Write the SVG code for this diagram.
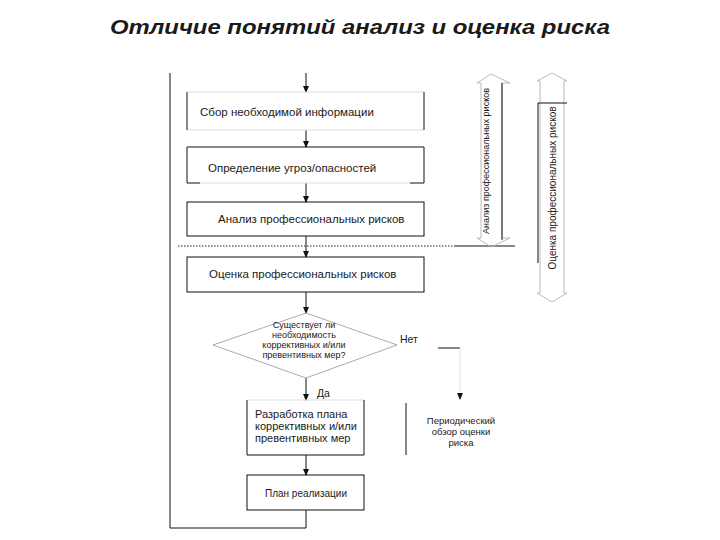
<svg xmlns="http://www.w3.org/2000/svg" width="720" height="540" viewBox="0 0 720 540">
<style>
.t{font-family:"Liberation Sans","DejaVu Sans",sans-serif;fill:#1a1a1a}
.ln{fill:none;stroke:#111;stroke-width:1}
.faint{fill:none;stroke:#ddd;stroke-width:1}
.blk{fill:none;stroke:#bbb;stroke-width:1}
</style>
<defs>
<marker id="ah" markerWidth="7" markerHeight="7" refX="6" refY="3.5" orient="auto" markerUnits="userSpaceOnUse">
<path d="M0,0.5 L7,3.5 L0,6.5 Z" fill="#111"/>
</marker>
</defs>
<rect width="720" height="540" fill="#fff"/>
<text class="t" x="110" y="34" font-size="21" font-weight="bold" font-style="italic" textLength="500" lengthAdjust="spacingAndGlyphs">Отличие понятий анализ и оценка риска</text>

<g id="connectors">
<path class="ln" d="M306,73 V92" marker-end="url(#ah)"/>
<path class="ln" d="M306,130 V147" marker-end="url(#ah)"/>
<path class="ln" d="M306,183 V202" marker-end="url(#ah)"/>
<path class="ln" d="M306,236 V257" marker-end="url(#ah)"/>
<path class="ln" d="M306,292 V313" marker-end="url(#ah)"/>
<path class="ln" d="M306,378 V400" marker-end="url(#ah)"/>
<path class="ln" d="M306,455 V475" marker-end="url(#ah)"/>
<path class="ln" d="M306,510 V528 H170 V73"/>
<path class="ln" d="M438,348 H460"/>
<path class="faint" d="M460,348 V392"/>
<path d="M457,393 L463,393 L460,400 Z" fill="#111"/>
<path fill="none" stroke="#222" stroke-width="1" stroke-dasharray="1.5,1.5" d="M178,246 H455"/>
<path class="ln" d="M455,246 H515"/>
</g>

<g id="n1">
<path class="faint" d="M187,92 H424 M187,130 H424"/>
<path class="ln" d="M187,92 V130 M424,92 V130"/>
<text class="t" x="200" y="116" font-size="11.5">Сбор необходимой информации</text>
</g>
<g id="n2">
<path class="faint" d="M200,183 H410"/>
<path class="ln" d="M200,183 H187 V147 H424 V183 H410"/>
<text class="t" x="208" y="172" font-size="11.5">Определение угроз/опасностей</text>
</g>
<g id="n3">
<rect class="ln" x="187" y="202" width="237" height="34"/>
<text class="t" x="218" y="223" font-size="11.5">Анализ профессиональных рисков</text>
</g>
<g id="n4">
<rect class="ln" x="187" y="257" width="237" height="35"/>
<text class="t" x="209" y="278" font-size="11.5">Оценка профессиональных рисков</text>
</g>
<g id="n5">
<polygon points="306,313 397,345 306,378 213,345" fill="none" stroke="#aaa" stroke-width="1"/>
<g class="t" font-size="9" text-anchor="middle">
<text x="304" y="328">Существует ли</text>
<text x="304" y="338">необходимость</text>
<text x="304" y="348">коррективных и/или</text>
<text x="304" y="358">превентивных мер?</text>
</g>
<text class="t" x="400" y="343" font-size="10.5">Нет</text>
<text class="t" x="317" y="397" font-size="10.5">Да</text>
</g>
<g id="n6">
<path class="faint" d="M247,400 H364"/>
<path class="ln" d="M247,400 V455 H364 V400"/>
<g class="t" font-size="11">
<text x="255" y="418">Разработка плана</text>
<text x="255" y="430">коррективных и/или</text>
<text x="255" y="442">превентивных мер</text>
</g>
</g>
<g id="n7">
<rect class="ln" x="247" y="475" width="117" height="35"/>
<text class="t" x="306" y="497" font-size="10" text-anchor="middle">План реализации</text>
</g>
<g id="n8">
<path class="ln" d="M406,403 V455"/>
<g class="t" font-size="9.5" text-anchor="middle">
<text x="461" y="424">Периодический</text>
<text x="461" y="435">обзор оценки</text>
<text x="461" y="446">риска</text>
</g>
</g>
<g id="n9">
<path class="blk" d="M491,74 L510,83 L502,83 L502,238 L510,238 L491,247 L477,238 L481,238 L481,83 L477,83 Z"/>
<path class="ln" d="M502,83 V240"/>
<text class="t" transform="translate(489,161) rotate(-90)" font-size="9" text-anchor="middle">Анализ профессиональных рисков</text>
</g>
<g id="n10">
<path class="blk" d="M552,73 L567,81 L564,81 L564,293 L567,293 L552,302 L537,293 L540,293 L540,81 L537,81 Z"/>
<path class="ln" d="M567,103 H538 V263"/>
<text class="t" transform="translate(556,188) rotate(-90)" font-size="10" text-anchor="middle">Оценка профессиональных рисков</text>
</g>
</svg>
